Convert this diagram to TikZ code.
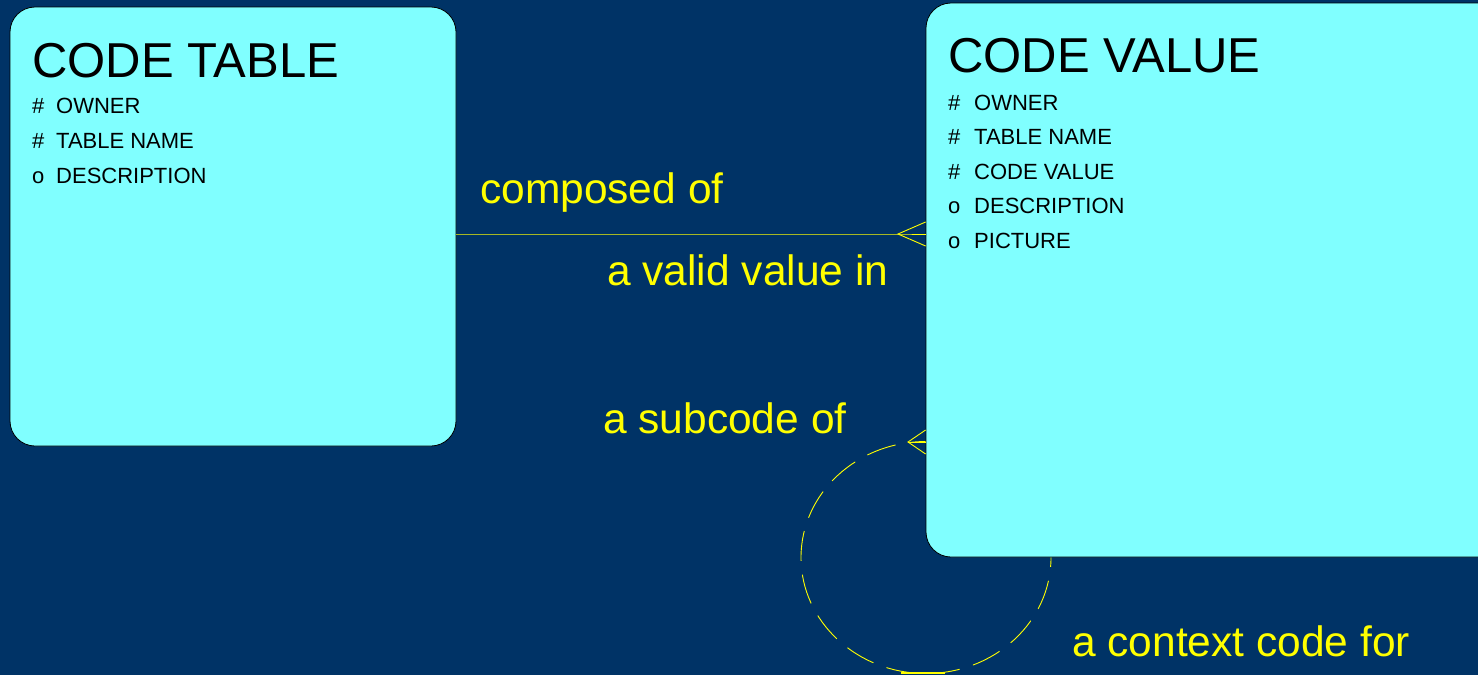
\documentclass[tikz,border=0pt]{standalone}
\usepackage{fontspec}
\setmainfont{Liberation Sans}
\definecolor{bgblue}{HTML}{003366}
\definecolor{boxcyan}{HTML}{80FFFF}
\definecolor{relyellow}{HTML}{FFFF00}
\tikzset{
  entity/.style={draw=black, fill=boxcyan, rounded corners=25pt, line width=0.8pt, inner sep=0pt},
  title/.style={anchor=base west, inner sep=0pt, font=\fontsize{49}{49}\selectfont},
  attr/.style={anchor=base west, inner sep=0pt, font=\fontsize{22}{22}\selectfont},
  rel/.style={draw=relyellow, line width=0.9pt},
  rellabel/.style={anchor=base west, inner sep=0pt, text=relyellow, font=\fontsize{42.5}{42.5}\selectfont}
}
\begin{document}
\begin{tikzpicture}[x=1pt,y=-1pt]
\fill[bgblue] (0,0) rectangle (1478,675);
\useasboundingbox (0,0) rectangle (1478,675);
% recursive relationship
\coordinate (loop) at (926,557.5);
\draw[rel, dash pattern=on 30pt off 14pt] (loop) ellipse [x radius=125pt, y radius=116pt];
% entities
\node[entity, minimum width=446pt, minimum height=439pt] (ctab) at (233,226.5) {};
\node[entity, minimum width=580pt, minimum height=554pt] (cval) at (1216,280) {};
\node[title] (ctabt) at (32,77) {CODE TABLE};
\node[attr] (ta1) at (32,113) {\#};  \node[attr] (tn1) at (56,113) {OWNER};
\node[attr] (ta2) at (32,148) {\#};  \node[attr] (tn2) at (56,148) {TABLE NAME};
\node[attr] (ta3) at (32,183) {o};   \node[attr] (tn3) at (56,183) {DESCRIPTION};
\node[title] (cvalt) at (948,72) {CODE VALUE};
\node[attr] (va1) at (948,110) {\#}; \node[attr] (vn1) at (974,110) {OWNER};
\node[attr] (va2) at (948,144) {\#}; \node[attr] (vn2) at (974,144) {TABLE NAME};
\node[attr] (va3) at (948,179) {\#}; \node[attr] (vn3) at (974,179) {CODE VALUE};
\node[attr] (va4) at (948,213) {o};  \node[attr] (vn4) at (974,213) {DESCRIPTION};
\node[attr] (va5) at (948,248) {o};  \node[attr] (vn5) at (974,248) {PICTURE};
% composed of / a valid value in
\coordinate (cf1) at (898,234);
\draw[rel] (ctab.east |- cf1) -- (cf1) -- (cval.west |- cf1);
\draw[rel] ([yshift=12pt]cval.west |- cf1) -- (cf1) -- ([yshift=-12pt]cval.west |- cf1);
% a subcode of / a context code for
\coordinate (cf2) at (908,442);
\draw[rel] (cf2) -- (cval.west |- cf2);
\draw[rel] ([yshift=12pt]cval.west |- cf2) -- (cf2) -- ([yshift=-12pt]cval.west |- cf2);
\coordinate (bar1) at (901,673);
\coordinate (bar2) at (945,673);
\draw[rel, line width=1.5pt] (bar1) -- (bar2);
% labels
\node[rellabel] (lcomp) at (480,203) {composed of};
\node[rellabel] (lvalid) at (607,285) {a valid value in};
\node[rellabel] (lsub) at (603,433) {a subcode of};
\node[rellabel] (lctx) at (1072,656) {a context code for};
\end{tikzpicture}
\end{document}
